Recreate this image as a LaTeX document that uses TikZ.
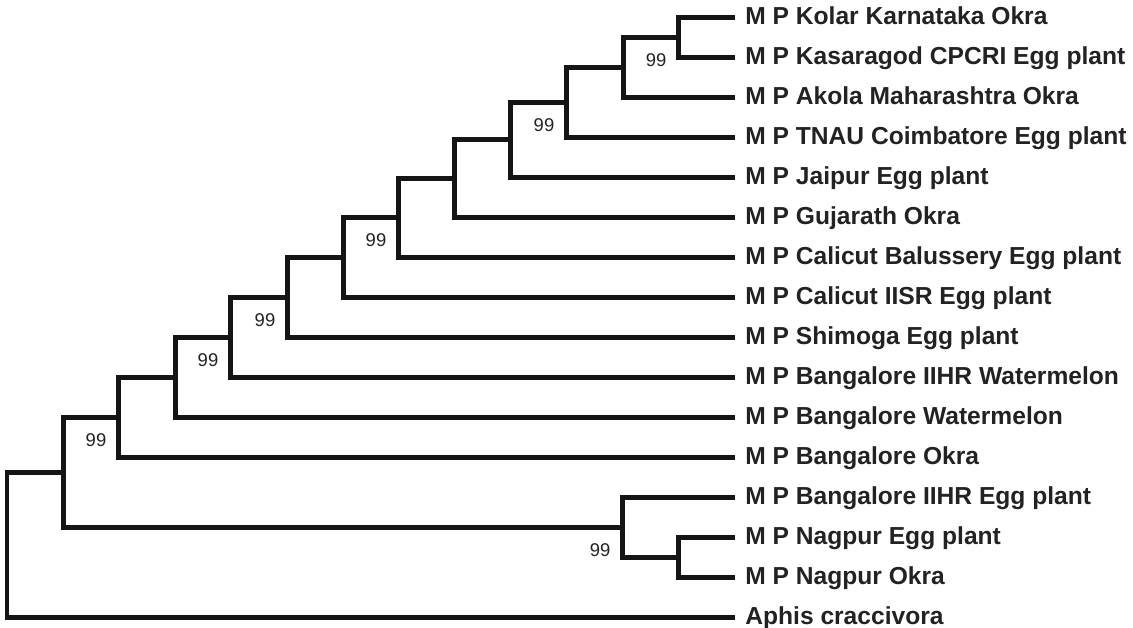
\documentclass[tikz,border=0pt]{standalone}
\usepackage{fontspec}
\setmainfont{Liberation Sans}
\usepackage{tikz}
\definecolor{treeline}{HTML}{151515}
\definecolor{labtext}{HTML}{222222}
\tikzset{
	leaf/.style={anchor=west,inner xsep=0.2cm,inner ysep=0pt,text height=0.4cm,text depth=0.12cm,
		text=labtext,font=\fontsize{14}{16}\selectfont\bfseries},
	boot/.style={text=labtext,font=\fontsize{10.5}{12}\selectfont,xshift=-0.44cm,yshift=-0.46cm},
	elbow/.style={draw=treeline,line width=0.1cm,to path={|- (\tikztotarget)}}
}

\begin{document}
\begin{tikzpicture}[x=0.02cm,y=-0.02cm]
	\useasboundingbox (0,0) rectangle (1133,627);
	% taxa
	\node[leaf] (1)  at (735,17)  {M P Kolar Karnataka Okra};
	\node[leaf] (2)  at (735,57)  {M P Kasaragod CPCRI Egg plant};
	\node[leaf] (3)  at (735,97)  {M P Akola Maharashtra Okra};
	\node[leaf] (4)  at (735,137) {M P TNAU Coimbatore Egg plant};
	\node[leaf] (5)  at (735,177) {M P Jaipur Egg plant};
	\node[leaf] (6)  at (735,217) {M P Gujarath Okra};
	\node[leaf] (7)  at (735,257) {M P Calicut Balussery Egg plant};
	\node[leaf] (8)  at (735,297) {M P Calicut IISR Egg plant};
	\node[leaf] (9)  at (735,337) {M P Shimoga Egg plant};
	\node[leaf] (10) at (735,377) {M P Bangalore IIHR Watermelon};
	\node[leaf] (11) at (735,417) {M P Bangalore Watermelon};
	\node[leaf] (12) at (735,457) {M P Bangalore Okra};
	\node[leaf] (13) at (735,497) {M P Bangalore IIHR Egg plant};
	\node[leaf] (14) at (735,537) {M P Nagpur Egg plant};
	\node[leaf] (15) at (735,577) {M P Nagpur Okra};
	\node[leaf] (16) at (735,617) {Aphis craccivora};
	% branch points
	\coordinate (n1)  at (678,37);
	\coordinate (n2)  at (623,67);
	\coordinate (n3)  at (566,102);
	\coordinate (n4)  at (510,139.5);
	\coordinate (n5)  at (454,178.2);
	\coordinate (n6)  at (398,217.6);
	\coordinate (n7)  at (343,257.3);
	\coordinate (n8)  at (287,297.2);
	\coordinate (n9)  at (230,337.1);
	\coordinate (n10) at (175,377);
	\coordinate (n11) at (118,417);
	\coordinate (n12) at (678,557);
	\coordinate (n13) at (622,527);
	\coordinate (n14) at (63,472);
	\coordinate (n15) at (7,544.5);

	\path
		(n1) edge[elbow] (1)
		(n1) edge[elbow] (2)
		(n2) edge[elbow] (n1)
		(n2) edge[elbow] (3)
		(n3) edge[elbow] (n2)
		(n3) edge[elbow] (4)
		(n4) edge[elbow] (n3)
		(n4) edge[elbow] (5)
		(n5) edge[elbow] (n4)
		(n5) edge[elbow] (6)
		(n6) edge[elbow] (n5)
		(n6) edge[elbow] (7)
		(n7) edge[elbow] (n6)
		(n7) edge[elbow] (8)
		(n8) edge[elbow] (n7)
		(n8) edge[elbow] (9)
		(n9) edge[elbow] (n8)
		(n9) edge[elbow] (10)
		(n10) edge[elbow] (n9)
		(n10) edge[elbow] (11)
		(n11) edge[elbow] (n10)
		(n11) edge[elbow] (12)
		(n12) edge[elbow] (14)
		(n12) edge[elbow] (15)
		(n13) edge[elbow] (13)
		(n13) edge[elbow] (n12)
		(n14) edge[elbow] (n11)
		(n14) edge[elbow] (n13)
		(n15) edge[elbow] (n14)
		(n15) edge[elbow] (16);

	% bootstrap values
	\node[boot] (b1)  at (n1)  {99};
	\node[boot] (b3)  at (n3)  {99};
	\node[boot] (b6)  at (n6)  {99};
	\node[boot] (b8)  at (n8)  {99};
	\node[boot] (b9)  at (n9)  {99};
	\node[boot] (b11) at (n11) {99};
	\node[boot] (b13) at (n13) {99};
\end{tikzpicture}
\end{document}
